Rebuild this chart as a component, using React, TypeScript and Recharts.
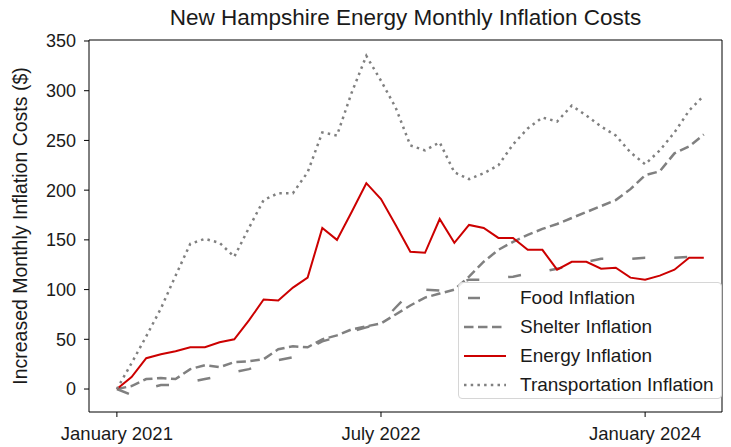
import { Legend, Line, LineChart, ReferenceLine, XAxis, YAxis } from "recharts";

const months = [
  "2021-01", "2021-02", "2021-03", "2021-04", "2021-05", "2021-06", "2021-07", "2021-08", "2021-09", "2021-10", "2021-11", "2021-12",
  "2022-01", "2022-02", "2022-03", "2022-04", "2022-05", "2022-06", "2022-07", "2022-08", "2022-09", "2022-10", "2022-11", "2022-12",
  "2023-01", "2023-02", "2023-03", "2023-04", "2023-05", "2023-06", "2023-07", "2023-08", "2023-09", "2023-10", "2023-11", "2023-12",
  "2024-01", "2024-02", "2024-03", "2024-04", "2024-05",
];

const food = [0, -6, 0, 4, 4, 7, 10, 13, 17, 20, 25, 29, 32, 40, 48, 52, 58, 62, 66, 82, 97, 100, 99, 105, 110, 110, 112, 113, 116, 118, 121, 124, 128, 131, 131, 131, 132, 132, 132, 133, 133];
const shelter = [0, 3, 10, 11, 10, 20, 24, 22, 27, 28, 30, 40, 43, 42, 50, 54, 60, 63, 66, 75, 84, 92, 96, 100, 113, 128, 140, 148, 155, 161, 166, 172, 178, 184, 190, 201, 215, 219, 237, 244, 256];
const energy = [0, 12, 31, 35, 38, 42, 42, 47, 50, 69, 90, 89, 102, 112, 162, 150, 178, 207, 191, 165, 138, 137, 171, 147, 165, 162, 152, 152, 140, 140, 120, 128, 128, 121, 122, 112, 110, 114, 120, 132, 132];
const transportation = [0, 26, 53, 81, 114, 146, 151, 147, 133, 162, 190, 197, 197, 218, 258, 255, 298, 335, 310, 283, 245, 240, 248, 218, 211, 217, 225, 246, 262, 273, 269, 285, 275, 264, 255, 238, 226, 240, 258, 280, 295];

const xTicks = [0, 18, 36];
const xTickLabels = ["January 2021", "July 2022", "January 2024"];
const yTicks = [0, 50, 100, 150, 200, 250, 300, 350];

const X_DOMAIN: [number, number] = [-1.9, 41.24];
const Y_DOMAIN: [number, number] = [-23.1, 351];

const data = months.map((month, i) => ({
  idx: i,
  month,
  food: food[i],
  shelter: shelter[i],
  energy: energy[i],
  transportation: transportation[i],
}));

const series = [
  { key: "food", name: "Food Inflation", color: "#808080", width: 2.5, dash: "13 29" },
  { key: "shelter", name: "Shelter Inflation", color: "#808080", width: 2.5, dash: "9.5 4.5" },
  { key: "energy", name: "Energy Inflation", color: "#cc0000", width: 2, dash: undefined },
  { key: "transportation", name: "Transportation Inflation", color: "#808080", width: 2.5, dash: "2.5 4.2" },
];

const FONT = "'Liberation Sans', Arial, sans-serif";
const TEXT = "#1a1a1a";

function ChartLegend() {
  return (
    <div
      style={{
        width: 264,
        height: 117,
        boxSizing: "border-box",
        border: "1px solid #d6d6d6",
        borderRadius: 4,
        background: "rgba(255,255,255,0.85)",
        fontFamily: FONT,
        fontSize: 19,
        color: TEXT,
        marginTop: -1,
      }}
    >
      {series.map((s) => (
        <div key={s.key} style={{ display: "flex", alignItems: "center", height: 29 }}>
          <svg width={58} height={10} style={{ marginLeft: 3 }}>
            <line
              x1={2}
              x2={44}
              y1={5}
              y2={5}
              stroke={s.color}
              strokeWidth={s.width}
              strokeDasharray={s.key === "food" ? "12 40" : s.dash}
              strokeDashoffset={s.key === "food" ? -4 : 0}
            />
          </svg>
          <span>{s.name}</span>
        </div>
      ))}
    </div>
  );
}

export default function App() {
  return (
    <div style={{ position: "fixed", left: 0, top: 0, width: 731, height: 447, background: "#fff" }}>
      <div
        style={{
          position: "absolute",
          left: 89,
          width: 633,
          top: 5,
          textAlign: "center",
          fontFamily: FONT,
          fontSize: 22.5,
          color: TEXT,
        }}
      >
        New Hampshire Energy Monthly Inflation Costs
      </div>
      <LineChart
        width={731}
        height={447}
        data={data}
        margin={{ top: 40, right: 9, bottom: 0, left: 0 }}
        style={{ fontFamily: FONT }}
      >
        <XAxis
          dataKey="idx"
          type="number"
          domain={X_DOMAIN}
          ticks={xTicks}
          tickFormatter={(v: number) => xTickLabels[xTicks.indexOf(v)]}
          height={35}
          tickSize={5}
          tickMargin={10}
          stroke="#000"
          tick={{ fill: TEXT, fontSize: 18.5 }}
          allowDataOverflow
        />
        <YAxis
          type="number"
          domain={Y_DOMAIN}
          ticks={yTicks}
          width={89}
          tickSize={5}
          tickMargin={8}
          stroke="#000"
          tick={{ fill: TEXT, fontSize: 18 }}
          allowDataOverflow
          label={{
            value: "Increased Monthly Inflation Costs ($)",
            angle: -90,
            position: "insideLeft",
            offset: 20,
            style: { textAnchor: "middle", fill: TEXT, fontSize: 19.5 },
          }}
        />
        <ReferenceLine y={Y_DOMAIN[1]} stroke="#000" strokeWidth={1} />
        <ReferenceLine x={X_DOMAIN[1]} stroke="#000" strokeWidth={1} />
        {series.map((s) => (
          <Line
            key={s.key}
            dataKey={s.key}
            name={s.name}
            type="linear"
            stroke={s.color}
            strokeWidth={s.width}
            strokeDasharray={s.dash}
            dot={false}
            activeDot={false}
            isAnimationActive={false}
          />
        ))}
        <Legend
          layout="vertical"
          align="center"
          verticalAlign="middle"
          content={() => <ChartLegend />}
          wrapperStyle={{ position: "absolute", left: 458, top: 283, width: 264, height: 117 }}
        />
      </LineChart>
    </div>
  );
}
